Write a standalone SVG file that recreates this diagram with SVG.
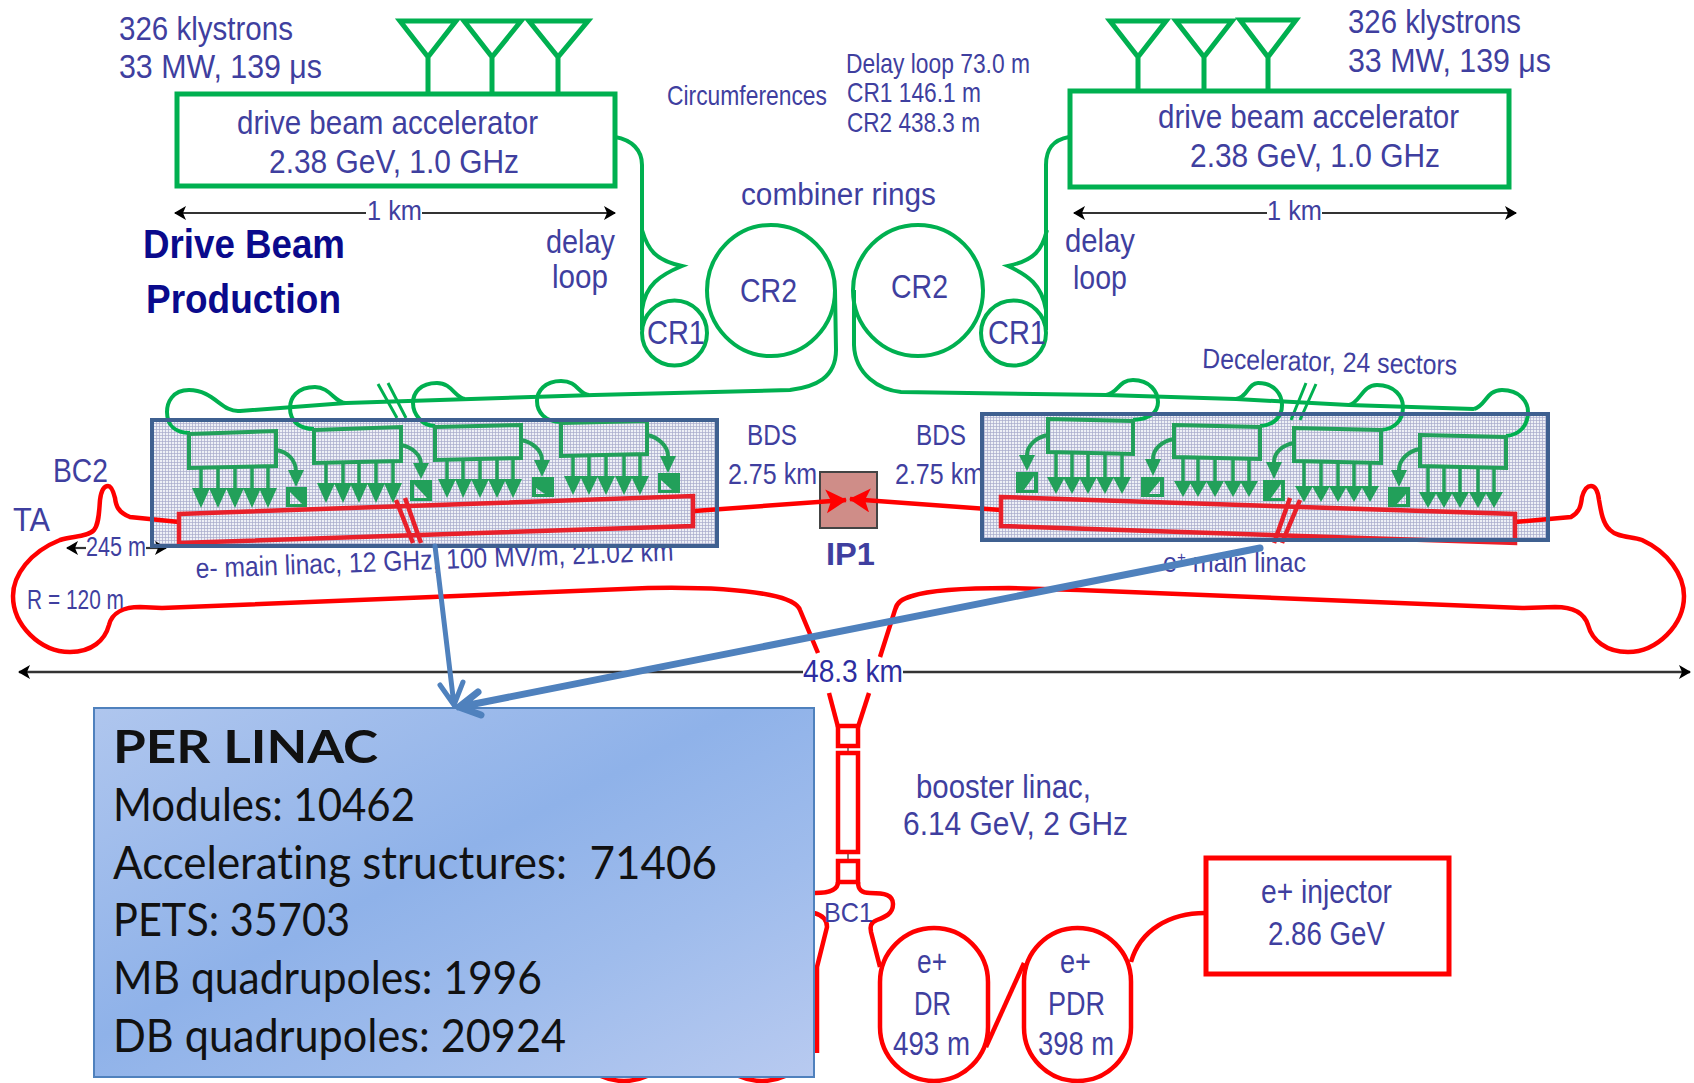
<svg xmlns="http://www.w3.org/2000/svg" width="1694" height="1083" viewBox="0 0 1694 1083">
<style>
text{font-family:"Liberation Sans",Arial,sans-serif;fill:#3f3f9f;font-size:33px}
.s26{font-size:28px}
.b{font-weight:bold;fill:#0a0a8c;font-size:41px}
.p{font-family:Lato,"Open Sans",sans-serif;fill:#111;font-size:46px;font-variant-ligatures:none}
.g{fill:none;stroke:#00b050;stroke-width:4}
.gb{fill:none;stroke:#00b050;stroke-width:5}
.m{fill:none;stroke:#22a05a;stroke-width:4}
.st{stroke:#22a05a;stroke-width:3.5}
.sq{fill:#22a05a}
.r{fill:none;stroke:#f00;stroke-width:4.5}
.rb{fill:none;stroke:#f00;stroke-width:5}
.rl{fill:none;stroke:#e8202a;stroke-width:4.5}
.hatch{fill:url(#mesh);stroke:none}
.frame{fill:none;stroke:#3f6090;stroke-width:4}
.dim{stroke:#333;stroke-width:2.2;fill:none}
.blue{fill:none;stroke:#4f81bd;stroke-linecap:round;stroke-linejoin:round}
</style>
<defs>
<pattern id="mesh" width="3" height="3" patternUnits="userSpaceOnUse">
<rect width="3" height="3" fill="#eef0f6"/>
<path d="M0,.5H3M.5,0V3" stroke="#a7abcc" stroke-width=".7"/>
</pattern>
<marker id="dh" markerUnits="userSpaceOnUse" markerWidth="14" markerHeight="16" refX="11" refY="7" orient="auto">
<path d="M0,0L12,7L0,14L3,7Z" fill="#000"/>
</marker>
<marker id="rh" markerUnits="userSpaceOnUse" markerWidth="24" markerHeight="26" refX="20" refY="12" orient="auto">
<path d="M0,0L21,12L0,24L5,12Z" fill="#f00"/>
</marker>
<linearGradient id="panel" x1="0" y1="0" x2="1" y2="1">
<stop offset="0" stop-color="#afc6ee"/>
<stop offset=".45" stop-color="#8fb2e9"/>
<stop offset=".7" stop-color="#9fbcec"/>
<stop offset="1" stop-color="#b8caf0"/>
</linearGradient>
</defs>
<rect width="1694" height="1083" fill="#fff"/>

<g id="labels-general">
<text x="741" y="205" textLength="195" lengthAdjust="spacingAndGlyphs" style="font-size:31px">combiner rings</text>
<text x="667" y="105" textLength="160" lengthAdjust="spacingAndGlyphs" class="s26">Circumferences</text>
<text x="846" y="73" textLength="184" lengthAdjust="spacingAndGlyphs" class="s26">Delay loop 73.0 m</text>
<text x="847" y="102" textLength="134" lengthAdjust="spacingAndGlyphs" class="s26">CR1 146.1 m</text>
<text x="847" y="132" textLength="133" lengthAdjust="spacingAndGlyphs" class="s26">CR2 438.3 m</text>
<text x="143" y="258" textLength="202" lengthAdjust="spacingAndGlyphs" class="b">Drive Beam</text>
<text x="146" y="313" textLength="195" lengthAdjust="spacingAndGlyphs" class="b">Production</text>
<text x="1202" y="368" textLength="255" lengthAdjust="spacingAndGlyphs" class="s26" transform="rotate(1.5 1202 368)">Decelerator, 24 sectors</text>
<text x="53" y="482" textLength="55" lengthAdjust="spacingAndGlyphs">BC2</text>
<text x="13" y="531" textLength="37" lengthAdjust="spacingAndGlyphs">TA</text>
<text x="86" y="556" textLength="60" lengthAdjust="spacingAndGlyphs" class="s26">245 m</text>
<text x="27" y="609" textLength="97" lengthAdjust="spacingAndGlyphs" class="s26">R = 120 m</text>
<text x="196" y="578" textLength="478" lengthAdjust="spacingAndGlyphs" class="s26" transform="rotate(-2.1 196 578)">e- main linac, 12 GHz, 100 MV/m, 21.02 km</text>
<text x="1163" y="572" textLength="143" lengthAdjust="spacingAndGlyphs" class="s26">e<tspan dy="-9" style="font-size:17px">+</tspan><tspan dy="9"> main linac</tspan></text>
<text x="747" y="445" textLength="50" lengthAdjust="spacingAndGlyphs" style="font-size:30px">BDS</text>
<text x="728" y="484" textLength="89" lengthAdjust="spacingAndGlyphs" style="font-size:30px">2.75 km</text>
<text x="916" y="445" textLength="50" lengthAdjust="spacingAndGlyphs" style="font-size:30px">BDS</text>
<text x="895" y="484" textLength="89" lengthAdjust="spacingAndGlyphs" style="font-size:30px">2.75 km</text>
<text x="803" y="682" textLength="100" lengthAdjust="spacingAndGlyphs" style="font-size:31px;fill:#2d2da0">48.3 km</text>
<text x="916" y="798" textLength="175" lengthAdjust="spacingAndGlyphs">booster linac,</text>
<text x="903" y="835" textLength="225" lengthAdjust="spacingAndGlyphs">6.14 GeV, 2 GHz</text>
</g>

<g id="backgrounds">
<rect class="hatch" x="152" y="420" width="565" height="126"/>
<rect class="hatch" x="982" y="414" width="566" height="126"/>
<rect x="820" y="472" width="57" height="56" fill="#cf8d88" stroke="#444" stroke-width="2"/>
</g>

<g id="connectors">
<path class="r" d="M179,522L130,517C118,512 116,506 115,498C113,490 111,486 108,486C103,486 101,492 100,500C99,512 99,524 94,530C88,537 72,536 60,540C30,552 13,575 13,596C13,625 40,652 70,652C92,652 105,640 109,625C112,612 125,607 140,607L162,608L432,597L648,588C700,587 745,590 770,595C785,598 797,602 800,610L818,653"/>
<path class="r" d="M829,693L838,727"/>
<path class="r" d="M1515,522L1571,517C1580,512 1581,505 1582,497C1584,490 1587,486 1591,486C1596,486 1598,492 1599,500C1601,512 1603,524 1610,530C1618,538 1632,536 1642,540C1668,552 1684,575 1684,596C1684,625 1657,652 1628,652C1606,652 1592,640 1588,625C1584,612 1572,607 1555,607L1522,608L1079,590L1009,588C970,588 930,590 912,596C902,599 897,602 895,610L880,657"/>
<path class="r" d="M869,693L858,727"/>
<path class="r" d="M694,511L846,500" marker-end="url(#rh)"/>
<path class="r" d="M1001,510L850,499" marker-end="url(#rh)"/>
<path class="r" d="M838,882C838,890 830,893 815,893M858,882C858,890 862,893 870,893C885,893 893,895 893,904C893,914 885,917 877,920C870,923 870,927 871,932L880,967"/>
<path class="r" d="M814,913C822,915 827,920 827,927L817,967L817,1053"/>
<path class="r" d="M986,1047L1024,963"/>
<path class="r" d="M1205,913C1170,913 1140,930 1131,962"/>
<path d="M848,746V753M848,852V861" stroke="#555" stroke-width="1.5"/>
<path class="g" d="M615,137C632,140 642,150 642,165L642,330"/>
<path class="g" d="M642,230C648,250 655,260 682,266C660,275 645,285 642,310"/>
<path class="g" d="M1069,137C1052,140 1046,150 1046,165L1046,330"/>
<path class="g" d="M1047,230C1042,250 1035,260 1008,266C1028,275 1042,285 1046,310"/>
<path class="g" d="M835,290L836,350C836,378 815,387 790,390L594,395L346,403L240,411C222,413 214,390 189,390C172,390 167,403 167,412C167,425 175,433 190,433"/>
<path class="g" d="M346,403C335,403 330,387 315,387C297,387 290,398 290,408C290,420 298,429 314,429"/>
<path class="g" d="M465,399C455,398 452,383 437,383C420,383 413,393 413,403C413,414 422,426 435,426"/>
<path class="g" d="M589,395C578,394 578,381 561,381C545,381 537,391 537,401C537,412 545,422 561,422"/>
<path class="g" d="M854,290L854,345C855,375 880,390 901,392L1106,395L1236,399L1349,405L1474,409"/>
<path class="g" d="M1106,395C1118,394 1118,380 1133,380C1150,380 1158,392 1158,402C1158,412 1150,419 1133,420"/>
<path class="g" d="M1236,399C1248,397 1248,383 1258,383C1275,383 1282,395 1282,405C1282,416 1275,425 1260,426"/>
<path class="g" d="M1349,405C1360,403 1362,385 1377,385C1395,385 1403,397 1403,407C1403,420 1395,429 1381,430"/>
<path class="g" d="M1474,409C1486,406 1486,390 1502,390C1520,390 1528,402 1528,412C1528,425 1520,435 1506,436"/>
<path class="g" d="M378,384L397,418M388,383L406,418M1306,383L1291,420M1316,384L1300,420" style="stroke-width:3"/>
<path class="dim" d="M366,213H175" marker-end="url(#dh)"/>
<path class="dim" d="M422,213H615" marker-end="url(#dh)"/>
<path class="dim" d="M1267,213H1074" marker-end="url(#dh)"/>
<path class="dim" d="M1322,213H1516" marker-end="url(#dh)"/>
<path class="dim" d="M86,548H67" marker-end="url(#dh)"/>
<path class="dim" d="M146,548H166" marker-end="url(#dh)"/>
<path class="dim" d="M803,672H19" style="stroke-width:2.6" marker-end="url(#dh)"/>
<path class="dim" d="M903,672H1690" style="stroke-width:2.6" marker-end="url(#dh)"/>
</g>

<g id="klystrons-left">
<path class="gb" d="M400,21H456L428,57ZM428,57V92M464,21H521L492,57ZM492,57V92M529,21H588L558,57ZM558,57V92"/>
<text x="119" y="40" textLength="174" lengthAdjust="spacingAndGlyphs">326 klystrons</text>
<text x="119" y="78" textLength="203" lengthAdjust="spacingAndGlyphs">33 MW, 139 μs</text>
</g>
<g id="drive-beam-accelerator-left">
<rect class="gb" x="177" y="94" width="438" height="92"/>
<text x="237" y="134" textLength="301" lengthAdjust="spacingAndGlyphs">drive beam accelerator</text>
<text x="269" y="173" textLength="250" lengthAdjust="spacingAndGlyphs">2.38 GeV, 1.0 GHz</text>
<text x="367" y="220" textLength="55" lengthAdjust="spacingAndGlyphs" class="s26">1 km</text>
<text x="546" y="253" textLength="69" lengthAdjust="spacingAndGlyphs">delay</text>
<text x="552" y="288" textLength="56" lengthAdjust="spacingAndGlyphs">loop</text>
</g>
<g id="klystrons-right">
<path class="gb" d="M1110,21H1166L1138,57ZM1138,57V92M1176,21H1232L1204,57ZM1204,57V92M1240,20H1296L1268,57ZM1268,57V92"/>
<text x="1348" y="33" textLength="173" lengthAdjust="spacingAndGlyphs">326 klystrons</text>
<text x="1348" y="72" textLength="203" lengthAdjust="spacingAndGlyphs">33 MW, 139 μs</text>
</g>
<g id="drive-beam-accelerator-right">
<rect class="gb" x="1070" y="91" width="439" height="96"/>
<text x="1158" y="128" textLength="301" lengthAdjust="spacingAndGlyphs">drive beam accelerator</text>
<text x="1190" y="167" textLength="250" lengthAdjust="spacingAndGlyphs">2.38 GeV, 1.0 GHz</text>
<text x="1267" y="220" textLength="55" lengthAdjust="spacingAndGlyphs" class="s26">1 km</text>
<text x="1065" y="252" textLength="70" lengthAdjust="spacingAndGlyphs">delay</text>
<text x="1073" y="289" textLength="54" lengthAdjust="spacingAndGlyphs">loop</text>
</g>

<g id="cr2-left"><ellipse class="g" cx="771" cy="290.5" rx="64" ry="65.5"/><text x="740" y="302" textLength="57" lengthAdjust="spacingAndGlyphs">CR2</text></g>
<g id="cr1-left"><circle class="g" cx="674.5" cy="333" r="32.5"/><text x="647" y="344" textLength="58" lengthAdjust="spacingAndGlyphs">CR1</text></g>
<g id="cr2-right"><ellipse class="g" cx="918" cy="290.5" rx="65" ry="65.5"/><text x="891" y="298" textLength="57" lengthAdjust="spacingAndGlyphs">CR2</text></g>
<g id="cr1-right"><circle class="g" cx="1013.5" cy="333" r="32.5"/><text x="988" y="344" textLength="58" lengthAdjust="spacingAndGlyphs">CR1</text></g>

<g id="main-linac-left">
<path class="m" d="M189,434L276,431V466L189,468Z"/>
<path class="st" d="M201,468V488M218,468V488M235,468V488M252,468V488M268,468V488"/>
<path class="m" d="M276,450C288,452 296,460 296,472"/>
<path class="m" d="M314,430L401,427V461L314,463Z"/>
<path class="m" d="M401,445C412,447 421,455 421,464"/>
<path class="m" d="M435,427L521,425V458L435,460Z"/>
<path class="m" d="M521,440C532,442 542,450 542,460"/>
<path class="m" d="M561,423L647,421V454L561,456Z"/>
<path class="m" d="M647,435C658,437 668,446 668,456"/>
<path class="sq" d="M192,488H210L201,508ZM209,488H227L218,508ZM226,488H244L235,508ZM243,488H261L252,508ZM259,488H277L268,508ZM317,483H335L326,503ZM334,483H352L343,503ZM350,483H368L359,503ZM367,483H385L376,503ZM384,483H402L393,503ZM438,479H456L447,498ZM455,479H472L463,498ZM471,479H489L480,498ZM488,479H506L497,498ZM504,479H522L513,498ZM564,476H582L573,495ZM580,476H598L589,495ZM597,476H615L606,495ZM615,476H633L624,495ZM631,476H649L640,495ZM288,470H304L296,487ZM413,463H429L421,479ZM534,460H550L542,477ZM660,456H676L668,473Z"/>
<path class="st" d="M326,463V483M343,463V483M359,463V483M376,463V483M393,463V483M447,460V479M463,460V479M480,460V479M497,460V479M513,460V479M573,456V476M589,456V476M606,456V476M624,456V476M640,456V476"/>
<path class="sq" fill-rule="evenodd" d="M286,487H307V507H286ZM290,492L290,504L302,504Z"/>
<path class="sq" fill-rule="evenodd" d="M410,480H432V501H410ZM414,484L414,498L427,498Z"/>
<path class="sq" fill-rule="evenodd" d="M532,477H554V497H532ZM536,488L536,494L545,494Z"/>
<path class="sq" fill-rule="evenodd" d="M658,473H680V493H658ZM661,480L661,490L672,490Z"/>
<path class="rl" d="M179,514L693,496V526L179,543Z"/>
<path class="rl" d="M396,500L413,543M405,498L421,543"/>
<rect class="frame" x="152" y="420" width="565" height="126"/>
</g>

<g id="main-linac-right">
<path class="m" d="M1048,419L1133,421V454L1048,452Z"/>
<path class="m" d="M1048,435C1036,437 1027,446 1027,455"/>
<path class="m" d="M1174,425L1260,427V459L1174,457Z"/>
<path class="m" d="M1174,439C1162,441 1153,449 1153,459"/>
<path class="m" d="M1294,428L1381,430V463L1294,461Z"/>
<path class="m" d="M1294,443C1282,445 1274,453 1274,462"/>
<path class="m" d="M1420,435L1506,437V468L1420,466Z"/>
<path class="m" d="M1420,449C1408,451 1399,460 1399,470"/>
<path class="st" d="M1056,453V477M1072,453V477M1088,453V477M1105,453V477M1122,453V477M1183,458V481M1198,458V481M1215,458V481M1233,458V481M1249,458V481M1304,462V486M1321,462V486M1338,462V486M1354,462V486M1370,462V486M1428,467V492M1444,467V492M1460,467V492M1478,467V492M1494,467V492"/>
<path class="sq" d="M1047,477H1065L1056,494ZM1063,477H1081L1072,494ZM1079,477H1097L1088,494ZM1096,477H1114L1105,494ZM1113,477H1131L1122,494ZM1174,481H1192L1183,497ZM1189,481H1207L1198,497ZM1206,481H1224L1215,497ZM1224,481H1242L1233,497ZM1240,481H1258L1249,497ZM1295,486H1313L1304,502ZM1312,486H1330L1321,502ZM1329,486H1347L1338,502ZM1345,486H1363L1354,502ZM1361,486H1379L1370,502ZM1419,492H1437L1428,508ZM1435,492H1453L1444,508ZM1451,492H1469L1460,508ZM1469,492H1487L1478,508ZM1485,492H1503L1494,508ZM1019,455H1035L1027,471ZM1145,459H1161L1153,476ZM1266,462H1282L1274,479ZM1391,470H1407L1399,487Z"/>
<path class="sq" fill-rule="evenodd" d="M1016,472H1038V493H1016ZM1034,476L1034,490L1024,490Z"/>
<path class="sq" fill-rule="evenodd" d="M1141,477H1164V497H1141ZM1160,481L1160,494L1149,494Z"/>
<path class="sq" fill-rule="evenodd" d="M1263,480H1285V501H1263ZM1281,484L1281,498L1271,498Z"/>
<path class="sq" fill-rule="evenodd" d="M1388,487H1410V507H1388ZM1406,494L1406,504L1397,504Z"/>
<path class="rl" d="M1001,497L1515,514V543L1001,526Z"/>
<path class="rl" d="M1290,498L1274,543M1300,500L1282,543"/>
<rect class="frame" x="982" y="414" width="566" height="126"/>
</g>

<g id="ip1">
<text x="826" y="565" textLength="49" lengthAdjust="spacingAndGlyphs" style="font-weight:bold;font-size:31px">IP1</text>
</g>

<g id="booster">
<rect class="r" x="838" y="726" width="20" height="20"/>
<rect class="r" x="838" y="753" width="20" height="99"/>
<rect class="r" x="838" y="861" width="20" height="21"/>
<text x="824" y="922" textLength="49" lengthAdjust="spacingAndGlyphs" class="s26">BC1</text>
</g>
<g id="e-rings">
<rect class="r" x="570" y="940" width="108" height="141" rx="54"/>
<rect class="r" x="708" y="940" width="108" height="141" rx="54"/>
</g>
<g id="e-plus-dr">
<rect class="r" x="880" y="928" width="108" height="153" rx="54"/>
<text x="917" y="973" textLength="30" lengthAdjust="spacingAndGlyphs">e+</text>
<text x="914" y="1015" textLength="37" lengthAdjust="spacingAndGlyphs">DR</text>
<text x="893" y="1055" textLength="77" lengthAdjust="spacingAndGlyphs">493 m</text>
</g>
<g id="e-plus-pdr">
<rect class="r" x="1024" y="928" width="107" height="153" rx="53.5"/>
<text x="1060" y="973" textLength="31" lengthAdjust="spacingAndGlyphs">e+</text>
<text x="1048" y="1015" textLength="57" lengthAdjust="spacingAndGlyphs">PDR</text>
<text x="1038" y="1055" textLength="76" lengthAdjust="spacingAndGlyphs">398 m</text>
</g>
<g id="e-plus-injector">
<rect class="rb" x="1206" y="858" width="243" height="116"/>
<text x="1261" y="903" textLength="131" lengthAdjust="spacingAndGlyphs">e+ injector</text>
<text x="1268" y="945" textLength="117" lengthAdjust="spacingAndGlyphs">2.86 GeV</text>
</g>

<g id="per-linac-panel">
<rect x="94" y="708" width="720" height="369" fill="url(#panel)" stroke="#4f81bd" stroke-width="2"/>
<text class="p" x="113" y="763" textLength="265" lengthAdjust="spacingAndGlyphs" style="font-weight:bold">PER LINAC</text>
<text class="p" x="113" y="821" textLength="302" lengthAdjust="spacingAndGlyphs">Modules: 10462</text>
<text class="p" x="113" y="879" textLength="604" lengthAdjust="spacingAndGlyphs" xml:space="preserve">Accelerating structures:  71406</text>
<text class="p" x="113" y="936" textLength="237" lengthAdjust="spacingAndGlyphs">PETS: 35703</text>
<text class="p" x="113" y="994" textLength="429" lengthAdjust="spacingAndGlyphs">MB quadrupoles: 1996</text>
<text class="p" x="113" y="1052" textLength="453" lengthAdjust="spacingAndGlyphs">DB quadrupoles: 20924</text>
</g>

<g id="callout-connectors">
<path class="blue" stroke-width="5" d="M435,546L454,705M440,685L454,705L463,682"/>
<path class="blue" stroke-width="7" d="M1260,548L459,707M478,692L459,707L481,715"/>
</g>
</svg>
